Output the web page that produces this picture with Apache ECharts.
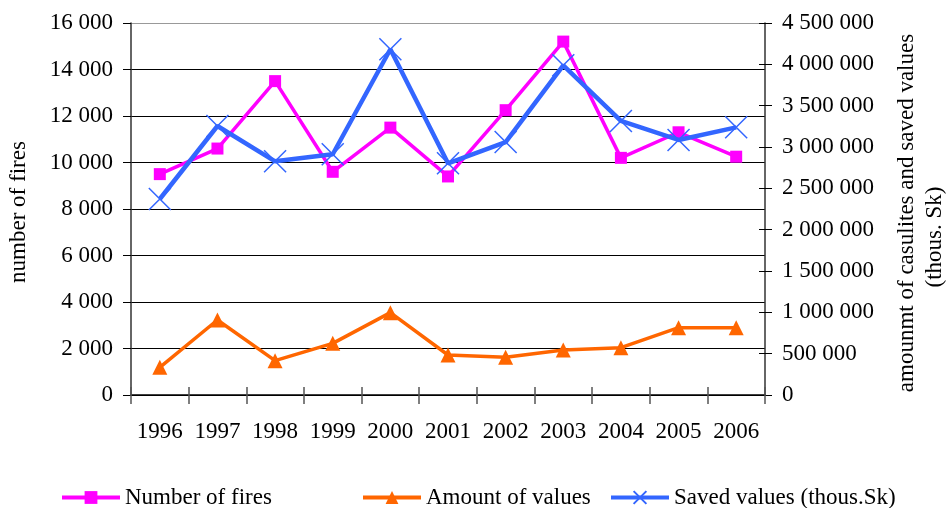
<!DOCTYPE html>
<html>
<head>
<meta charset="utf-8">
<script src="https://cdn.jsdelivr.net/npm/echarts@6/dist/echarts.min.js"></script>
<style>
html,body{margin:0;padding:0;background:#fff;}
#chart{width:947px;height:508px;}
</style>
</head>
<body>
<div id="chart"></div>
<script>
var years = ['1996','1997','1998','1999','2000','2001','2002','2003','2004','2005','2006'];
var numberOfFires = [9500, 10600, 13500, 9600, 11500, 9400, 12250, 15200, 10200, 11300, 10250];
var amountOfValues = [335000, 907000, 415000, 625000, 996000, 484000, 456000, 544000, 572000, 814000, 814000];
var savedValues = [2371000, 3254000, 2827000, 2912000, 4182000, 2803000, 3060000, 3988000, 3315000, 3085000, 3238000];
var leftName = 'number of fires';
var rightName1 = 'amounmt of casulites and saved values';
var rightName2 = '(thous. Sk)';

var FONT = '"Liberation Serif", "Times New Roman", serif';
var FS = 23;
function fmt(v){ return String(v).replace(/\B(?=(\d{3})+(?!\d))/g, ' '); }
var xPath = 'path://M0,0L20,20M20,0L0,20';

function mkLegend(name, left){
  return {data: [name], left: left, top: 486, padding: 0, itemWidth: 58, itemHeight: 16, itemGap: 5,
    lineStyle: {width: 4},
    textStyle: {fontFamily: FONT, fontSize: FS, color: '#000'}};
}

var chart = echarts.init(document.getElementById('chart'), null, {renderer:'canvas'});
chart.setOption({
  backgroundColor: '#fff',
  animation: false,
  textStyle: {fontFamily: FONT, color: '#000'},
  grid: {left: 131, right: 182, top: 23, bottom: 113, containLabel: false},
  legend: [
    mkLegend('Number of fires', 60),
    mkLegend('Amount of values', 361),
    mkLegend('Saved values (thous.Sk)', 609)
  ],
  xAxis: [
    {type: 'category', data: years, position: 'bottom', boundaryGap: true,
     axisLine: {show: true, lineStyle: {color: '#000', width: 1.5}},
     axisTick: {show: true, inside: false, length: 9, interval: 0, lineStyle: {color: '#555', width: 1.5}},
     axisLabel: {fontFamily: FONT, fontSize: FS, color: '#000', margin: 25, interval: 0},
     splitLine: {show: false}},
    {type: 'category', data: years, position: 'bottom', boundaryGap: true,
     axisLine: {show: false},
     axisTick: {show: true, inside: true, length: 8, interval: 0, lineStyle: {color: '#555', width: 1.5}},
     axisLabel: {show: false}, splitLine: {show: false}}
  ],
  yAxis: [
    {type: 'value', position: 'left', min: 0, max: 16000, interval: 2000,
     axisLine: {show: true, lineStyle: {color: '#333', width: 1.5}},
     axisTick: {show: true, inside: false, length: 8, lineStyle: {color: '#000', width: 1}},
     axisLabel: {fontFamily: FONT, fontSize: FS, color: '#000', margin: 18, formatter: fmt},
     splitLine: {show: true, lineStyle: {color: ['#000','#000','#000','#000','#000','#000','#000','#000','#999'], width: 1.2}}},
    {type: 'value', position: 'right', min: 0, max: 4500000, interval: 500000,
     axisLine: {show: true, lineStyle: {color: '#333', width: 1.5}},
     axisTick: {show: true, inside: false, length: 7, lineStyle: {color: '#000', width: 1}},
     axisLabel: {fontFamily: FONT, fontSize: FS, color: '#000', margin: 17, formatter: fmt},
     splitLine: {show: false}},
    {type: 'value', position: 'right', min: 0, max: 4500000, interval: 500000,
     axisLine: {show: false},
     axisTick: {show: true, inside: true, length: 6, lineStyle: {color: '#000', width: 1}},
     axisLabel: {show: false}, splitLine: {show: false}}
  ],
  graphic: [
    {type: 'text', x: 19, y: 212, rotation: Math.PI/2,
     style: {text: leftName, font: FS + 'px ' + FONT, fill: '#000', align: 'center', verticalAlign: 'middle'}},
    {type: 'text', x: 907, y: 213, rotation: Math.PI/2,
     style: {text: rightName1, font: FS + 'px ' + FONT, fill: '#000', align: 'center', verticalAlign: 'middle'}},
    {type: 'text', x: 935, y: 237, rotation: Math.PI/2,
     style: {text: rightName2, font: FS + 'px ' + FONT, fill: '#000', align: 'center', verticalAlign: 'middle'}}
  ],
  series: [
    {name: 'Number of fires', type: 'line', xAxisIndex: 0, yAxisIndex: 0, data: numberOfFires,
     symbol: 'rect', symbolSize: 12, color: '#FF00FF',
     itemStyle: {color: '#FF00FF'}, lineStyle: {color: '#FF00FF', width: 3.5}, z: 3},
    {name: 'Amount of values', type: 'line', xAxisIndex: 0, yAxisIndex: 1, data: amountOfValues,
     symbol: 'triangle', symbolSize: 15, color: '#FF6600',
     itemStyle: {color: '#FF6600'}, lineStyle: {color: '#FF6600', width: 3.5}, z: 3},
    {name: 'Saved values (thous.Sk)', type: 'line', xAxisIndex: 0, yAxisIndex: 1, data: savedValues,
     symbol: xPath, symbolSize: 22, color: '#3366FF',
     itemStyle: {color: '#3366FF', borderColor: '#3366FF', borderWidth: 1.5},
     lineStyle: {color: '#3366FF', width: 4.5}, z: 4}
  ]
});
</script>
</body>
</html>
